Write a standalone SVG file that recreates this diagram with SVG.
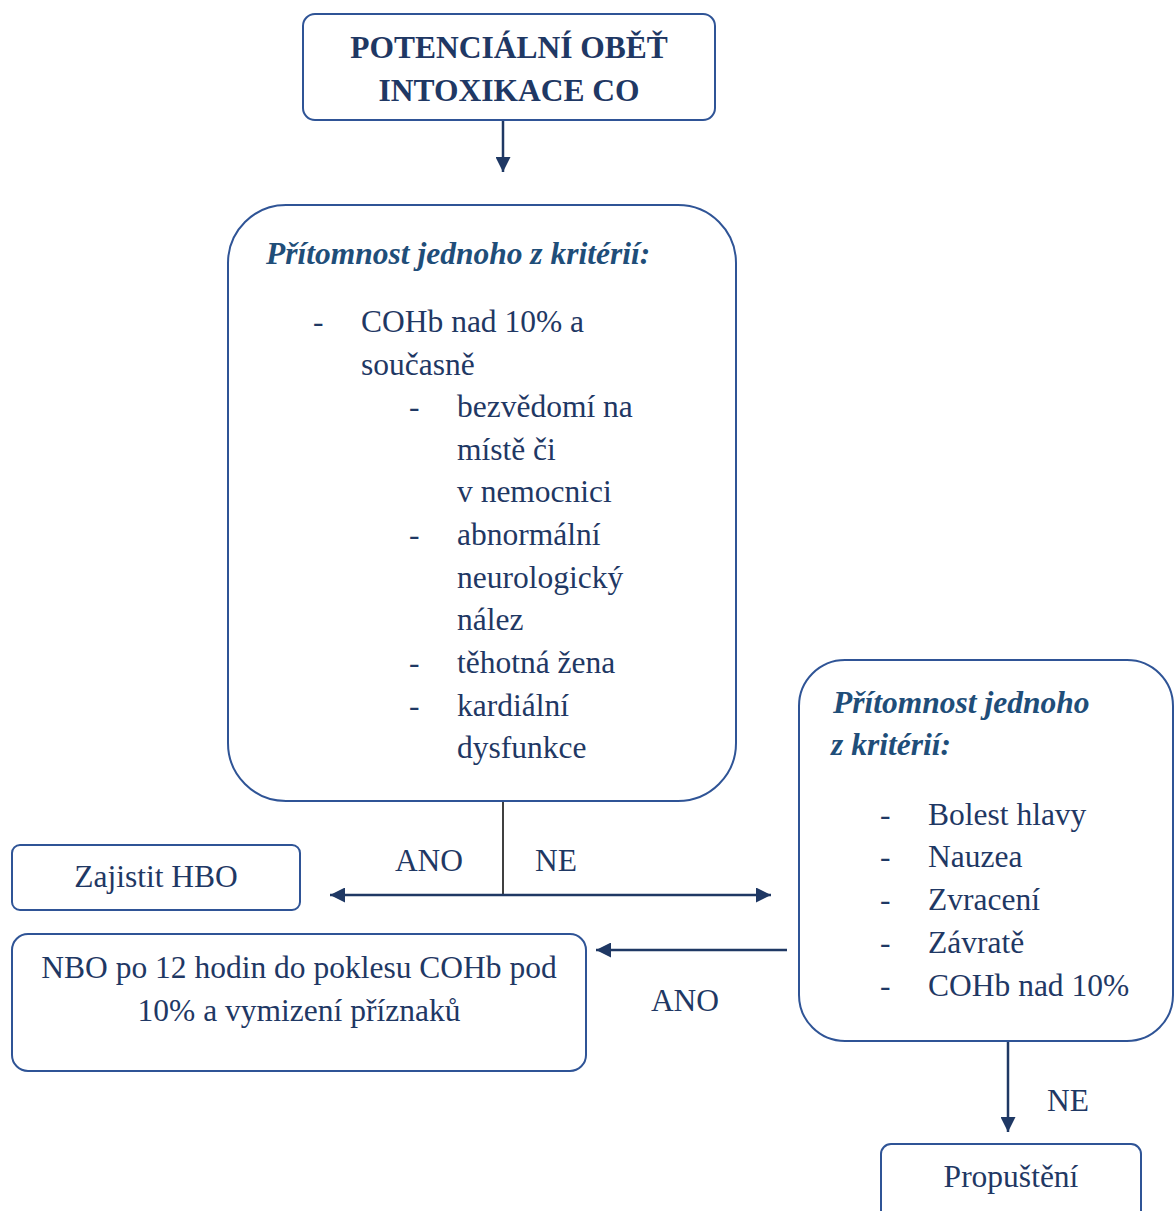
<svg xmlns="http://www.w3.org/2000/svg" width="1175" height="1211" viewBox="0 0 1175 1211">
<style>
.box{fill:#fff;stroke:#2f5496;stroke-width:2}
.t{font-family:"Liberation Serif","Times New Roman",serif;font-size:31.5px;fill:#1f3864}
.b{font-weight:bold}
.bi{font-weight:bold;font-style:italic;fill:#1f4e79}
.c{text-anchor:middle}
.arr{stroke:#1f3864;stroke-width:2.5;fill:none}
</style>
<defs>
<marker id="ah" viewBox="0 0 10 10" refX="10" refY="5" markerWidth="6.5" markerHeight="6" markerUnits="strokeWidth" orient="auto">
<path d="M0,0 L10,5 L0,10 Z" fill="#1f3864"/>
</marker>
</defs>
<rect width="1175" height="1211" fill="#fff"/>
<g id="connectors">
<line class="arr" x1="503" y1="121" x2="503" y2="172" marker-end="url(#ah)"/>
<line x1="503" y1="801" x2="503" y2="895" stroke="#000" stroke-width="1.5"/>
<line class="arr" x1="503" y1="895" x2="330" y2="895" marker-end="url(#ah)"/>
<line class="arr" x1="503" y1="895" x2="771" y2="895" marker-end="url(#ah)"/>
<line class="arr" x1="787" y1="950" x2="596" y2="950" marker-end="url(#ah)"/>
<line class="arr" x1="1008" y1="1041" x2="1008" y2="1132" marker-end="url(#ah)"/>
<text class="t" x="429" y="871" text-anchor="middle">ANO</text>
<text class="t" x="556" y="871" text-anchor="middle">NE</text>
<text class="t" x="685" y="1011" text-anchor="middle">ANO</text>
<text class="t" x="1068" y="1111" text-anchor="middle">NE</text>
</g>
<g id="start">
<rect class="box" x="303" y="14" width="412" height="106" rx="12"/>
<text class="t b c" x="509" y="58">POTENCIÁLNÍ OBĚŤ</text>
<text class="t b c" x="509" y="101">INTOXIKACE CO</text>
</g>
<g id="criteria1">
<rect class="box" x="228" y="205" width="508" height="596" rx="58"/>
<text class="t bi" x="266" y="264">Přítomnost jednoho z kritérií:</text>
<text class="t" x="313" y="332">-</text>
<text class="t" x="361" y="332">COHb nad 10% a</text>
<text class="t" x="361" y="375">současně</text>
<text class="t" x="409" y="417">-</text>
<text class="t" x="457" y="417">bezvědomí na</text>
<text class="t" x="457" y="460">místě či</text>
<text class="t" x="457" y="502">v nemocnici</text>
<text class="t" x="409" y="545">-</text>
<text class="t" x="457" y="545">abnormální</text>
<text class="t" x="457" y="588">neurologický</text>
<text class="t" x="457" y="630">nález</text>
<text class="t" x="409" y="673">-</text>
<text class="t" x="457" y="673">těhotná žena</text>
<text class="t" x="409" y="716">-</text>
<text class="t" x="457" y="716">kardiální</text>
<text class="t" x="457" y="758">dysfunkce</text>
</g>
<g id="hbo">
<rect class="box" x="12" y="845" width="288" height="65" rx="8"/>
<text class="t c" x="156" y="887">Zajistit HBO</text>
</g>
<g id="nbo">
<rect class="box" x="12" y="934" width="574" height="137" rx="16"/>
<text class="t c" x="299" y="978">NBO po 12 hodin do poklesu COHb pod</text>
<text class="t c" x="299" y="1021">10% a vymizení příznaků</text>
</g>
<g id="criteria2">
<rect class="box" x="799" y="660" width="374" height="381" rx="46"/>
<text class="t bi" x="833" y="713">Přítomnost jednoho</text>
<text class="t bi" x="831" y="755">z kritérií:</text>
<text class="t" x="880" y="825">-</text>
<text class="t" x="928" y="825">Bolest hlavy</text>
<text class="t" x="880" y="867">-</text>
<text class="t" x="928" y="867">Nauzea</text>
<text class="t" x="880" y="910">-</text>
<text class="t" x="928" y="910">Zvracení</text>
<text class="t" x="880" y="953">-</text>
<text class="t" x="928" y="953">Závratě</text>
<text class="t" x="880" y="996">-</text>
<text class="t" x="928" y="996">COHb nad 10%</text>
</g>
<g id="release">
<rect class="box" x="881" y="1144" width="260" height="80" rx="10"/>
<text class="t c" x="1011" y="1187">Propuštění</text>
</g>
</svg>
